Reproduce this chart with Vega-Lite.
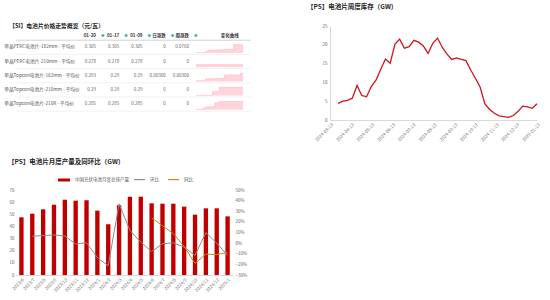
{
  "$schema": "https://vega.github.io/schema/vega-lite/v6.json",
  "background": "white",
  "padding": {"left": 3, "top": 3, "right": 0, "bottom": 0},
  "config": {
    "font": "Noto Sans CJK SC",
    "view": {"stroke": null},
    "axis": {"labelFont": "Noto Sans CJK SC", "labelFontSize": 4.5, "labelColor": "#666", "domainColor": "#d9d9d9", "ticks": false, "grid": false},
    "title": {"font": "Noto Sans CJK SC", "fontSize": 6.5, "fontWeight": "bold", "color": "#222", "anchor": "start", "frame": "group"},
    "legend": {"labelFontSize": 4.5, "labelColor": "#555", "labelFont": "Noto Sans CJK SC", "layout": {"top": {"anchor": "middle", "direction": "horizontal", "margin": 4}}}
  },
  "datasets": {
    "cells": [
      {"r": "单晶PERC电池片-182mm - 平均价", "c": "01-20", "v": "0.305"},
      {"r": "单晶PERC电池片-182mm - 平均价", "c": "01-17", "v": "0.305"},
      {"r": "单晶PERC电池片-182mm - 平均价", "c": "01-09", "v": "0.305"},
      {"r": "单晶PERC电池片-182mm - 平均价", "c": "日涨跌", "v": "0"},
      {"r": "单晶PERC电池片-182mm - 平均价", "c": "周涨跌", "v": "0.0760"},
      {"r": "单晶PERC电池片-210mm - 平均价", "c": "01-20", "v": "0.278"},
      {"r": "单晶PERC电池片-210mm - 平均价", "c": "01-17", "v": "0.278"},
      {"r": "单晶PERC电池片-210mm - 平均价", "c": "01-09", "v": "0.278"},
      {"r": "单晶PERC电池片-210mm - 平均价", "c": "日涨跌", "v": "0"},
      {"r": "单晶PERC电池片-210mm - 平均价", "c": "周涨跌", "v": "0"},
      {"r": "单晶Topcon电池片-182mm - 平均价", "c": "01-20", "v": "0.293"},
      {"r": "单晶Topcon电池片-182mm - 平均价", "c": "01-17", "v": "0.29"},
      {"r": "单晶Topcon电池片-182mm - 平均价", "c": "01-09", "v": "0.29"},
      {"r": "单晶Topcon电池片-182mm - 平均价", "c": "日涨跌", "v": "0.00300"},
      {"r": "单晶Topcon电池片-182mm - 平均价", "c": "周涨跌", "v": "0.00300"},
      {"r": "单晶Topcon电池片-210mm - 平均价", "c": "01-20", "v": "0.29"},
      {"r": "单晶Topcon电池片-210mm - 平均价", "c": "01-17", "v": "0.29"},
      {"r": "单晶Topcon电池片-210mm - 平均价", "c": "01-09", "v": "0.29"},
      {"r": "单晶Topcon电池片-210mm - 平均价", "c": "日涨跌", "v": "0"},
      {"r": "单晶Topcon电池片-210mm - 平均价", "c": "周涨跌", "v": "0"},
      {"r": "单晶Topcon电池片-210R - 平均价", "c": "01-20", "v": "0.285"},
      {"r": "单晶Topcon电池片-210R - 平均价", "c": "01-17", "v": "0.285"},
      {"r": "单晶Topcon电池片-210R - 平均价", "c": "01-09", "v": "0.285"},
      {"r": "单晶Topcon电池片-210R - 平均价", "c": "日涨跌", "v": "0"},
      {"r": "单晶Topcon电池片-210R - 平均价", "c": "周涨跌", "v": "0"}
    ],
    "spark": [
      {"r": "PERC-182", "t": 0, "v": 0.03}, {"r": "PERC-182", "t": 1, "v": 0.03}, {"r": "PERC-182", "t": 2, "v": 0.03}, {"r": "PERC-182", "t": 3, "v": 0.03}, {"r": "PERC-182", "t": 4, "v": 0.15}, {"r": "PERC-182", "t": 5, "v": 0.33}, {"r": "PERC-182", "t": 6, "v": 0.34}, {"r": "PERC-182", "t": 7, "v": 0.35}, {"r": "PERC-182", "t": 8, "v": 0.36}, {"r": "PERC-182", "t": 9, "v": 0.37}, {"r": "PERC-182", "t": 10, "v": 0.38}, {"r": "PERC-182", "t": 11, "v": 0.39}, {"r": "PERC-182", "t": 12, "v": 0.4}, {"r": "PERC-182", "t": 13, "v": 0.41}, {"r": "PERC-182", "t": 14, "v": 0.42}, {"r": "PERC-182", "t": 15, "v": 0.42}, {"r": "PERC-182", "t": 16, "v": 1.0}, {"r": "PERC-182", "t": 17, "v": 1.0}, {"r": "PERC-182", "t": 18, "v": 1.0}, {"r": "PERC-182", "t": 19, "v": 1.0}, {"r": "PERC-182", "t": 20, "v": 1.0},
      {"r": "PERC-210", "t": 0, "v": 0.3}, {"r": "PERC-210", "t": 5, "v": 0.3}, {"r": "PERC-210", "t": 10, "v": 0.3}, {"r": "PERC-210", "t": 15, "v": 0.3}, {"r": "PERC-210", "t": 20, "v": 0.3},
      {"r": "Topcon-182", "t": 0, "v": 0.08}, {"r": "Topcon-182", "t": 1, "v": 0.08}, {"r": "Topcon-182", "t": 2, "v": 0.08}, {"r": "Topcon-182", "t": 3, "v": 0.08}, {"r": "Topcon-182", "t": 4, "v": 0.3}, {"r": "Topcon-182", "t": 5, "v": 0.3}, {"r": "Topcon-182", "t": 6, "v": 0.31}, {"r": "Topcon-182", "t": 7, "v": 0.32}, {"r": "Topcon-182", "t": 8, "v": 0.33}, {"r": "Topcon-182", "t": 9, "v": 0.34}, {"r": "Topcon-182", "t": 10, "v": 0.35}, {"r": "Topcon-182", "t": 11, "v": 0.35}, {"r": "Topcon-182", "t": 12, "v": 0.75}, {"r": "Topcon-182", "t": 13, "v": 0.75}, {"r": "Topcon-182", "t": 14, "v": 0.76}, {"r": "Topcon-182", "t": 15, "v": 0.77}, {"r": "Topcon-182", "t": 16, "v": 0.78}, {"r": "Topcon-182", "t": 17, "v": 0.78}, {"r": "Topcon-182", "t": 18, "v": 0.78}, {"r": "Topcon-182", "t": 19, "v": 1.0}, {"r": "Topcon-182", "t": 20, "v": 1.0},
      {"r": "Topcon-210", "t": 0, "v": 0.03}, {"r": "Topcon-210", "t": 1, "v": 0.03}, {"r": "Topcon-210", "t": 2, "v": 0.03}, {"r": "Topcon-210", "t": 3, "v": 0.03}, {"r": "Topcon-210", "t": 4, "v": 0.03}, {"r": "Topcon-210", "t": 5, "v": 0.03}, {"r": "Topcon-210", "t": 6, "v": 0.03}, {"r": "Topcon-210", "t": 7, "v": 0.5}, {"r": "Topcon-210", "t": 8, "v": 0.5}, {"r": "Topcon-210", "t": 9, "v": 0.5}, {"r": "Topcon-210", "t": 10, "v": 1.0}, {"r": "Topcon-210", "t": 15, "v": 1.0}, {"r": "Topcon-210", "t": 20, "v": 1.0},
      {"r": "Topcon-210R", "t": 0, "v": 0.05}, {"r": "Topcon-210R", "t": 1, "v": 0.05}, {"r": "Topcon-210R", "t": 2, "v": 0.05}, {"r": "Topcon-210R", "t": 3, "v": 0.2}, {"r": "Topcon-210R", "t": 4, "v": 0.33}, {"r": "Topcon-210R", "t": 5, "v": 0.34}, {"r": "Topcon-210R", "t": 6, "v": 0.35}, {"r": "Topcon-210R", "t": 7, "v": 0.36}, {"r": "Topcon-210R", "t": 8, "v": 0.85}, {"r": "Topcon-210R", "t": 9, "v": 0.85}, {"r": "Topcon-210R", "t": 10, "v": 1.0}, {"r": "Topcon-210R", "t": 15, "v": 1.0}, {"r": "Topcon-210R", "t": 20, "v": 1.0}
    ],
    "bars": [
      {"m": "2023/6", "p": 47.5}, {"m": "2023/7", "p": 50.5}, {"m": "2023/8", "p": 54.1}, {"m": "2023/9", "p": 57.9},
      {"m": "2023/10", "p": 62.0}, {"m": "2023/11", "p": 61.2}, {"m": "2023/12", "p": 61.5}, {"m": "2024/1", "p": 53.0},
      {"m": "2024/2", "p": 41.7}, {"m": "2024/3", "p": 57.5}, {"m": "2024/4", "p": 64.5}, {"m": "2024/5", "p": 64.5},
      {"m": "2024/6", "p": 59.0}, {"m": "2024/7", "p": 58.7}, {"m": "2024/8", "p": 58.7}, {"m": "2024/9", "p": 56.3},
      {"m": "2024/10", "p": 49.7}, {"m": "2024/11", "p": 54.9}, {"m": "2024/12", "p": 54.9}, {"m": "2025/1", "p": 48.3}
    ],
    "rates": [
      {"m": "2023/7", "s": "环比", "q": 0.065}, {"m": "2023/8", "s": "环比", "q": 0.071}, {"m": "2023/9", "s": "环比", "q": 0.077},
      {"m": "2023/10", "s": "环比", "q": 0.067}, {"m": "2023/11", "s": "环比", "q": -0.009}, {"m": "2023/12", "s": "环比", "q": 0.005},
      {"m": "2024/1", "s": "环比", "q": -0.137}, {"m": "2024/2", "s": "环比", "q": -0.213}, {"m": "2024/3", "s": "环比", "q": 0.37},
      {"m": "2024/4", "s": "环比", "q": 0.12}, {"m": "2024/5", "s": "环比", "q": 0.01}, {"m": "2024/6", "s": "环比", "q": -0.08},
      {"m": "2024/7", "s": "环比", "q": -0.005}, {"m": "2024/8", "s": "环比", "q": 0.003}, {"m": "2024/9", "s": "环比", "q": -0.038},
      {"m": "2024/10", "s": "环比", "q": -0.115}, {"m": "2024/11", "s": "环比", "q": 0.1}, {"m": "2024/12", "s": "环比", "q": 0.0},
      {"m": "2025/1", "s": "环比", "q": -0.115},
      {"m": "2024/6", "s": "同比", "q": 0.238}, {"m": "2024/7", "s": "同比", "q": 0.163}, {"m": "2024/8", "s": "同比", "q": 0.09},
      {"m": "2024/9", "s": "同比", "q": -0.031}, {"m": "2024/10", "s": "同比", "q": -0.19}, {"m": "2024/11", "s": "同比", "q": -0.103},
      {"m": "2024/12", "s": "同比", "q": -0.108}, {"m": "2025/1", "s": "同比", "q": -0.088}
    ],
    "inv": [
      {"d": "2024-03-25", "v": 4.4}, {"d": "2024-04-01", "v": 5.0}, {"d": "2024-04-08", "v": 5.2}, {"d": "2024-04-15", "v": 5.8},
      {"d": "2024-04-22", "v": 9.2}, {"d": "2024-04-29", "v": 6.5}, {"d": "2024-05-06", "v": 6.2}, {"d": "2024-05-13", "v": 8.9},
      {"d": "2024-05-20", "v": 10.6}, {"d": "2024-05-27", "v": 13.5}, {"d": "2024-06-03", "v": 16.2}, {"d": "2024-06-10", "v": 15.1},
      {"d": "2024-06-17", "v": 20.2}, {"d": "2024-06-24", "v": 21.5}, {"d": "2024-07-01", "v": 19.1}, {"d": "2024-07-08", "v": 19.5},
      {"d": "2024-07-15", "v": 21.2}, {"d": "2024-07-22", "v": 20.7}, {"d": "2024-07-29", "v": 19.7}, {"d": "2024-08-05", "v": 17.7},
      {"d": "2024-08-12", "v": 20.4}, {"d": "2024-08-19", "v": 21.8}, {"d": "2024-08-26", "v": 19.3}, {"d": "2024-09-02", "v": 17.5},
      {"d": "2024-09-09", "v": 16.1}, {"d": "2024-09-16", "v": 16.5}, {"d": "2024-09-23", "v": 16.1}, {"d": "2024-09-30", "v": 15.8},
      {"d": "2024-10-07", "v": 13.3}, {"d": "2024-10-14", "v": 11.1}, {"d": "2024-10-21", "v": 8.7}, {"d": "2024-10-28", "v": 4.3},
      {"d": "2024-11-04", "v": 2.8}, {"d": "2024-11-11", "v": 1.8}, {"d": "2024-11-18", "v": 1.1}, {"d": "2024-11-25", "v": 0.9},
      {"d": "2024-12-02", "v": 0.7}, {"d": "2024-12-09", "v": 1.2}, {"d": "2024-12-16", "v": 2.3}, {"d": "2024-12-23", "v": 3.7},
      {"d": "2024-12-30", "v": 3.5}, {"d": "2025-01-06", "v": 3.1}, {"d": "2025-01-13", "v": 4.3}
    ]
  },
  "spacing": 55,
  "hconcat": [
    {
      "spacing": 46,
      "resolve": {"scale": {"fill": "independent", "stroke": "independent"}, "legend": {"fill": "independent", "stroke": "independent"}},
      "vconcat": [
        {
          "width": 235,
          "height": 85.2,
          "resolve": {"scale": {"x": "independent", "y": "independent"}},
          "layer": [
            {
              "data": {"name": "cells"},
              "encoding": {
                "x": {"field": "c", "type": "nominal", "sort": null,
                  "scale": {"type": "point", "domain": ["01-20", "01-17", "01-09", "日涨跌", "周涨跌"], "range": [80, 173], "padding": 0},
                  "axis": null},
                "y": {"field": "r", "type": "nominal", "sort": null,
                  "scale": {"domain": ["【SI】电池片价格走势概览（元/瓦）", "单晶PERC电池片-182mm - 平均价", "单晶PERC电池片-210mm - 平均价", "单晶Topcon电池片-182mm - 平均价", "单晶Topcon电池片-210mm - 平均价", "单晶Topcon电池片-210R - 平均价"], "paddingInner": 0, "paddingOuter": 0},
                  "axis": {"orient": "left", "title": null, "domain": false, "labelAlign": "left", "labelLimit": 200,
                    "labelPadding": {"condition": {"test": "datum.value == '【SI】电池片价格走势概览（元/瓦）'", "value": 7.3}, "value": 12.3},
                    "labelOffset": {"condition": {"test": "datum.value == '【SI】电池片价格走势概览（元/瓦）'", "value": -7.4}, "value": 0},
                    "labelFontSize": {"condition": {"test": "datum.value == '【SI】电池片价格走势概览（元/瓦）'", "value": 5.8}, "value": 4.7},
                    "labelFontWeight": {"condition": {"test": "datum.value == '【SI】电池片价格走势概览（元/瓦）'", "value": "bold"}, "value": "normal"},
                    "labelColor": {"condition": {"test": "datum.value == '【SI】电池片价格走势概览（元/瓦）'", "value": "#222"}, "value": "#555"}}}
              },
              "layer": [
                {
                  "transform": [{"filter": "datum.c == '01-20'"}],
                  "mark": {"type": "rule", "color": "#ececec", "strokeWidth": 0.7},
                  "encoding": {"x": null, "y": {"field": "r", "type": "nominal", "sort": null, "bandPosition": 1}}
                },
                {
                  "transform": [{"filter": "datum.c == '01-20' && datum.r == '单晶PERC电池片-182mm - 平均价'"}],
                  "mark": {"type": "rule", "color": "#c8c8c8", "strokeWidth": 0.8},
                  "encoding": {"x": null, "y": {"field": "r", "type": "nominal", "sort": null, "bandPosition": 0}}
                },
                {
                  "mark": {"type": "text", "align": "right", "fontSize": 4.5, "color": "#666"},
                  "encoding": {"text": {"field": "v"}}
                },
                {
                  "transform": [{"filter": "datum.r == '单晶PERC电池片-182mm - 平均价'"}],
                  "mark": {"type": "text", "align": "right", "fontSize": 4.5, "fontWeight": "bold", "color": "#333", "dy": -11},
                  "encoding": {"text": {"field": "c"}}
                },
                {
                  "transform": [{"filter": "datum.r == '单晶PERC电池片-182mm - 平均价'"}],
                  "mark": {"type": "text", "text": "◆", "align": "left", "fontSize": 3.5, "color": "#2bb3a3", "dx": 5, "dy": -11}
                }
              ]
            },
            {
              "layer": [
                {
                  "data": {"name": "spark"},
                  "transform": [{"filter": "datum.r == 'PERC-182'"}],
                  "mark": {"type": "area", "interpolate": "step-after", "color": "#ffc2cc", "line": {"color": "#ffa8b8", "strokeWidth": 0.5}},
                  "encoding": {
                    "x": {"field": "t", "type": "quantitative", "scale": {"domain": [0, 20], "range": [180, 227], "nice": false}, "axis": null},
                    "y": {"field": "v", "type": "quantitative", "scale": {"domain": [0, 1], "range": [27, 18.7], "nice": false}, "axis": null}
                  }
                },
                {
                  "data": {"values": [{}]},
                  "mark": {"type": "text", "text": "变化曲线", "align": "right", "baseline": "middle", "fontSize": 4.5, "fontWeight": "bold", "color": "#333"},
                  "encoding": {"x": {"datum": 18.2}, "y": {"datum": 2.0}}
                }
              ]
            },
            {
              "data": {"name": "spark"},
              "transform": [{"filter": "datum.r == 'PERC-210'"}],
              "mark": {"type": "area", "interpolate": "step-after", "color": "#ffc2cc", "line": {"color": "#ffa8b8", "strokeWidth": 0.5}},
              "encoding": {
                "x": {"field": "t", "type": "quantitative", "scale": {"domain": [0, 20], "range": [180, 227], "nice": false}, "axis": null},
                "y": {"field": "v", "type": "quantitative", "scale": {"domain": [0, 1], "range": [41.2, 32.9], "nice": false}, "axis": null}
              }
            },
            {
              "data": {"name": "spark"},
              "transform": [{"filter": "datum.r == 'Topcon-182'"}],
              "mark": {"type": "area", "interpolate": "step-after", "color": "#ffc2cc", "line": {"color": "#ffa8b8", "strokeWidth": 0.5}},
              "encoding": {
                "x": {"field": "t", "type": "quantitative", "scale": {"domain": [0, 20], "range": [180, 227], "nice": false}, "axis": null},
                "y": {"field": "v", "type": "quantitative", "scale": {"domain": [0, 1], "range": [55.4, 47.1], "nice": false}, "axis": null}
              }
            },
            {
              "data": {"name": "spark"},
              "transform": [{"filter": "datum.r == 'Topcon-210'"}],
              "mark": {"type": "area", "interpolate": "step-after", "color": "#ffc2cc", "line": {"color": "#ffa8b8", "strokeWidth": 0.5}},
              "encoding": {
                "x": {"field": "t", "type": "quantitative", "scale": {"domain": [0, 20], "range": [180, 227], "nice": false}, "axis": null},
                "y": {"field": "v", "type": "quantitative", "scale": {"domain": [0, 1], "range": [69.6, 61.3], "nice": false}, "axis": null}
              }
            },
            {
              "data": {"name": "spark"},
              "transform": [{"filter": "datum.r == 'Topcon-210R'"}],
              "mark": {"type": "area", "interpolate": "step-after", "color": "#ffc2cc", "line": {"color": "#ffa8b8", "strokeWidth": 0.5}},
              "encoding": {
                "x": {"field": "t", "type": "quantitative", "scale": {"domain": [0, 20], "range": [180, 227], "nice": false}, "axis": null},
                "y": {"field": "v", "type": "quantitative", "scale": {"domain": [0, 1], "range": [83.8, 75.5], "nice": false}, "axis": null}
              }
            }
          ]
        },
        {
          "title": {"text": "【PS】电池片月度产量及同环比（GW）", "dx": -8, "offset": 8},
          "width": 217,
          "height": 85,
          "layer": [
            {
              "data": {"name": "bars"},
              "mark": {"type": "bar"},
              "encoding": {
                "x": {"field": "m", "type": "ordinal", "sort": null,
                  "scale": {"domain": ["2023/6", "2023/7", "2023/8", "2023/9", "2023/10", "2023/11", "2023/12", "2024/1", "2024/2", "2024/3", "2024/4", "2024/5", "2024/6", "2024/7", "2024/8", "2024/9", "2024/10", "2024/11", "2024/12", "2025/1"], "paddingInner": 0.6, "paddingOuter": 0.3},
                  "axis": {"title": null, "labelAngle": -45, "labelFontSize": 4.5, "labelColor": "#777", "labelPadding": 2}},
                "y": {"field": "p", "type": "quantitative", "scale": {"domain": [0, 70], "nice": false},
                  "axis": {"title": null, "values": [0, 10, 20, 30, 40, 50, 60, 70], "domain": false, "labelPadding": 2, "minExtent": 12}},
                "fill": {"datum": "中国光伏电池月度总排产量", "type": "nominal", "scale": {"range": ["#c00000"]},
                  "legend": {"orient": "top", "title": null, "symbolType": "M-1,-0.25H1V0.25H-1Z", "symbolSize": 144, "labelFontSize": 4.5, "offset": 8}}
              }
            },
            {
              "data": {"name": "rates"},
              "mark": {"type": "line", "strokeWidth": 1},
              "encoding": {
                "x": {"field": "m", "type": "ordinal", "sort": null},
                "y": {"field": "q", "type": "quantitative", "scale": {"domain": [-0.3, 0.5], "nice": false},
                  "axis": {"orient": "right", "title": null, "format": ".0%", "values": [-0.3, -0.2, -0.1, 0, 0.1, 0.2, 0.3, 0.4, 0.5], "domain": false, "labelPadding": 2}},
                "stroke": {"field": "s", "type": "nominal", "scale": {"domain": ["环比", "同比"], "range": ["#8c8c8c", "#b8900a"]},
                  "legend": {"orient": "top", "title": null, "symbolType": "stroke", "symbolSize": 121, "symbolStrokeWidth": 1.2, "labelFontSize": 4.5, "offset": 8, "columnPadding": 6}}
              }
            }
          ],
          "resolve": {"scale": {"y": "independent"}}
        }
      ]
    },
    {
      "title": {"text": "【PS】电池片周度库存（GW）", "dx": -23, "offset": 13},
      "width": 207,
      "height": 94,
      "data": {"name": "inv"},
      "mark": {"type": "line", "color": "#d0151d", "strokeWidth": 1.3},
      "encoding": {
        "x": {"field": "d", "type": "temporal",
          "scale": {"type": "utc", "domain": [1710288000000, 1736726400000]},
          "axis": {"title": null, "format": "%Y-%m-%d", "labelAngle": -45, "labelFontSize": 4.5, "labelColor": "#777", "labelPadding": 2, "labelOverlap": false, "labelBound": false, "labelSeparation": -20,
            "values": [1710288000000, 1712966400000, 1715558400000, 1718236800000, 1720828800000, 1723507200000, 1726185600000, 1728777600000, 1731456000000, 1734048000000, 1736726400000]}},
        "y": {"field": "v", "type": "quantitative", "scale": {"domain": [0, 25], "nice": false},
          "axis": {"title": null, "values": [0, 5, 10, 15, 20, 25], "tickCount": 6, "labelPadding": 3, "labelOverlap": false, "labelFlush": false, "labelSeparation": -10}}
      }
    }
  ]
}
